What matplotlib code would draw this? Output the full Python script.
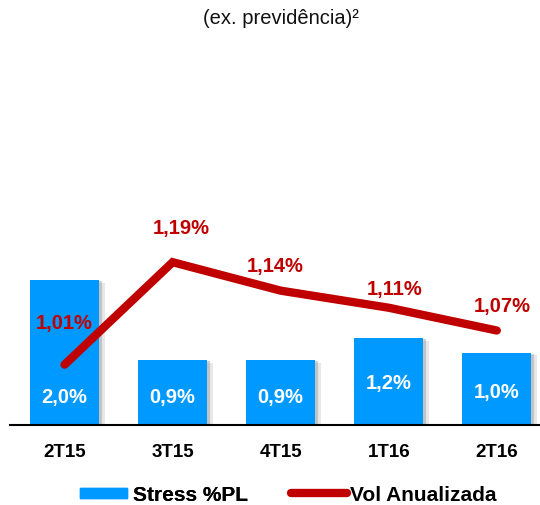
import matplotlib
matplotlib.use("Agg")
import matplotlib.pyplot as plt
import matplotlib.patheffects as pe
from matplotlib.patches import Patch, Rectangle
from matplotlib.lines import Line2D
from matplotlib.legend_handler import HandlerPatch

plt.rcParams['font.family'] = ['Liberation Sans', 'DejaVu Sans']

# ---- data ----
categories = ["2T15", "3T15", "4T15", "1T16", "2T16"]
stress_pl = [2.0, 0.9, 0.9, 1.2, 1.0]
vol_anual = [1.01, 1.19, 1.14, 1.11, 1.07]
stress_labels = ["2,0%", "0,9%", "0,9%", "1,2%", "1,0%"]
vol_labels = ["1,01%", "1,19%", "1,14%", "1,11%", "1,07%"]

# ---- layout helpers (not data) ----
bar_label_y = [0.40, 0.40, 0.40, 0.58, 0.46]
vol_label_offsets = [(0, 42), (9, 35), (-5, 25), (6, 19), (5, 25)]

BLUE = "#0099FF"
RED = "#C00000"

W, H = 540, 506
fig = plt.figure(figsize=(W / 100, H / 100), dpi=100)
ax = fig.add_axes([10 / W, 1 - 426 / H, 530 / W, 226 / H])

x = list(range(len(categories)))
bars = ax.bar(x, stress_pl, width=0.64, color=BLUE, zorder=2)
for b in bars:
    b.set_path_effects([
        pe.SimplePatchShadow(offset=(4, -2), shadow_rgbFace="#bbbbbb", alpha=0.35),
        pe.SimplePatchShadow(offset=(2, -1), shadow_rgbFace="#999999", alpha=0.45),
        pe.Normal()])

for xi, yl, t in zip(x, bar_label_y, stress_labels):
    ax.text(xi, yl, t, ha="center", va="center", color="white",
            fontsize=14.5, fontweight="bold", zorder=3)

ax.set_xlim(-0.505, 4.40)
ax.set_ylim(0, 226 / 72.5)
ax.set_xticks(x)
ax.set_xticklabels(categories, fontsize=13.5, fontweight="bold")
ax.tick_params(axis="x", length=0, pad=13)
ax.set_yticks([])
for s in ["left", "right", "top"]:
    ax.spines[s].set_visible(False)
ax.spines["bottom"].set_linewidth(1.5)
ax.spines["bottom"].set_color("black")

ax2 = ax.twinx()
ax2.plot(x, vol_anual, color=RED, linewidth=6, solid_capstyle="round",
         solid_joinstyle="miter", zorder=4)
for xi, v, t, (dx, dy) in zip(x, vol_anual, vol_labels, vol_label_offsets):
    ax2.annotate(t, (xi, v), xytext=(dx, dy), textcoords="offset pixels",
                 ha="center", va="center", color=RED, fontsize=14.5,
                 fontweight="bold", zorder=5)
ax2.set_ylim(0.904, 1.301)
ax2.set_yticks([])
for s in ax2.spines.values():
    s.set_visible(False)

fig.text(281 / W, 1 - 19 / H, "(ex. previdência)²", ha="center", va="center",
         fontsize=14.5, color="#111111")

# ---- legend ----
def make_rect(legend, orig_handle, xdescent, ydescent, width, height, fontsize):
    return Rectangle((-xdescent, -ydescent + height * 0.5 - 5 * 0.72), width, 10 * 0.72)

fs = 15
em = fs / 72 * 100
leg_y = 1 - 496 / H
leg1 = fig.legend(handles=[Patch(color=BLUE, label="Stress %PL")],
                  loc="center left", bbox_to_anchor=(78 / W, leg_y),
                  frameon=False, prop={"weight": "bold", "size": fs},
                  handlelength=47 / em, handletextpad=6 / em, borderpad=0.1, borderaxespad=0,
                  handler_map={Patch: HandlerPatch(patch_func=make_rect)})
fig.add_artist(leg1)
leg2 = fig.legend(handles=[Line2D([], [], color=RED, linewidth=6, solid_capstyle="round",
                                  label="Vol Anualizada")],
                  loc="center left", bbox_to_anchor=(289 / W, leg_y),
                  frameon=False, prop={"weight": "bold", "size": fs},
                  handlelength=56 / em, handletextpad=3 / em, borderpad=0.1, borderaxespad=0)

fig.savefig("out.png", dpi=100)
